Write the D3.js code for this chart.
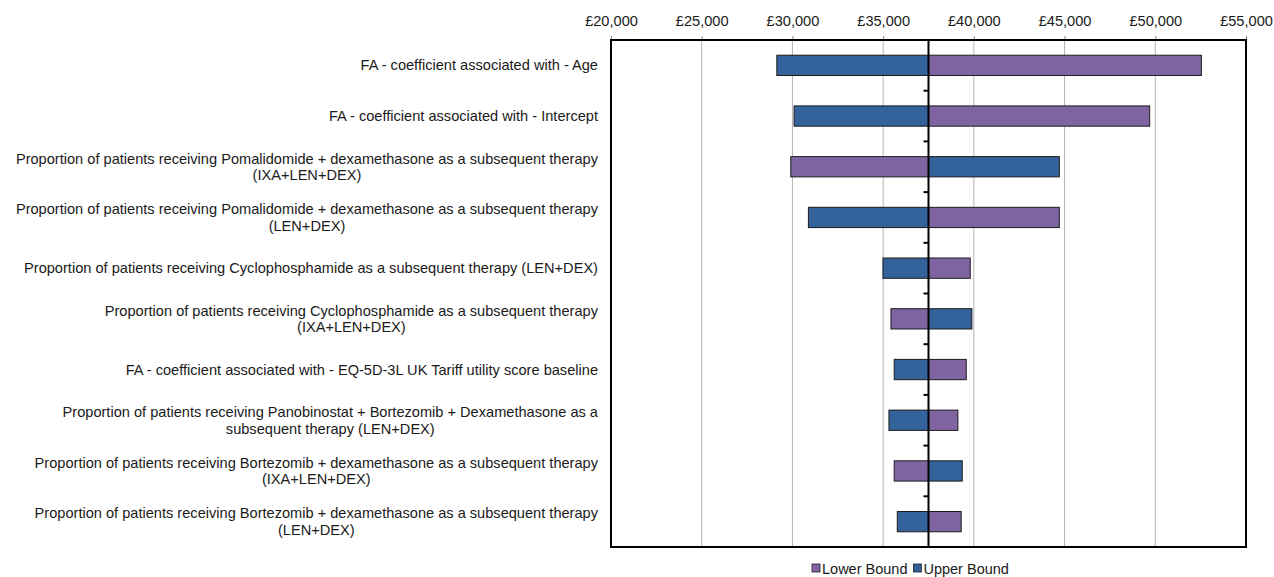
<!DOCTYPE html>
<html lang="en">
  <head>
    <meta charset="UTF-8" />
    <title>Tornado Chart</title>
    <script src="https://d3js.org/d3.v7.min.js"></script>
    <style>
      body {
        margin: 0;
        font-family: "Liberation Sans", Arial, sans-serif;
        background: #fff;
      }
    </style>
  </head>
  <body>
    <svg id="chart" width="1274" height="577"></svg>
    <script>
      // Parameters (rows, top to bottom)
      const labels = [
        "FA - coefficient associated with - Age",
        "FA - coefficient associated with - Intercept",
        "Proportion of patients receiving Pomalidomide + dexamethasone as a subsequent therapy\n(IXA+LEN+DEX)",
        "Proportion of patients receiving Pomalidomide + dexamethasone as a subsequent therapy\n(LEN+DEX)",
        "Proportion of patients receiving Cyclophosphamide as a subsequent therapy (LEN+DEX)",
        "Proportion of patients receiving Cyclophosphamide as a subsequent therapy\n(IXA+LEN+DEX)",
        "FA - coefficient associated with - EQ-5D-3L UK Tariff utility score baseline",
        "Proportion of patients receiving Panobinostat + Bortezomib + Dexamethasone as a\nsubsequent therapy (LEN+DEX)",
        "Proportion of patients receiving Bortezomib + dexamethasone as a subsequent therapy\n(IXA+LEN+DEX)",
        "Proportion of patients receiving Bortezomib + dexamethasone as a subsequent therapy\n(LEN+DEX)",
      ];
      const lowerBound = [52540, 49690, 29910, 44710, 39800, 35430, 39580, 39120, 35610, 39300];
      const upperBound = [29140, 30090, 44710, 30880, 34990, 39890, 35610, 35320, 39360, 35780];
      const baseValue = 37500;
      const xTicks = [20000, 25000, 30000, 35000, 40000, 45000, 50000, 55000];
      const seriesNames = ["Lower Bound", "Upper Bound"];
      const seriesColors = ["#8064a2", "#34629a"];

      const margin = { top: 40, right: 28, bottom: 30, left: 611 };
      const W = 1274, H = 577;
      const width = W - margin.left - margin.right;
      const height = H - margin.top - margin.bottom;

      const svg = d3.select("#chart");
      const g = svg.append("g").attr("transform", `translate(${margin.left},${margin.top})`);

      const x = d3.scaleLinear().domain([20000, 55000]).range([0, width]);
      const y = d3.scaleBand().domain(d3.range(labels.length)).range([0, height]).paddingInner(0.6).paddingOuter(0.3);

      // gridlines + top axis
      const fmt = (d) => "£" + d3.format(",")(d);
      const axis = g.append("g").call(d3.axisTop(x).tickValues(xTicks).tickFormat(fmt).tickSize(4).tickPadding(10));
      axis.select(".domain").remove();
      axis.selectAll("line").attr("stroke", "#888");
      axis.selectAll("text").attr("font-family", "Liberation Sans, Arial, sans-serif").attr("font-size", 14.6).attr("fill", "#1a1a1a");

      g.selectAll(".grid")
        .data(xTicks)
        .join("line")
        .attr("x1", (d) => x(d))
        .attr("x2", (d) => x(d))
        .attr("y1", 0)
        .attr("y2", height)
        .attr("stroke", "#b3b3b3")
        .attr("stroke-width", 1);

      // bars
      const barData = [];
      labels.forEach((l, i) => {
        barData.push({ i, v: lowerBound[i], s: 0 });
        barData.push({ i, v: upperBound[i], s: 1 });
      });
      g.selectAll(".bar")
        .data(barData)
        .join("rect")
        .attr("x", (d) => x(Math.min(d.v, baseValue)))
        .attr("width", (d) => Math.abs(x(d.v) - x(baseValue)))
        .attr("y", (d) => y(d.i))
        .attr("height", y.bandwidth())
        .attr("fill", (d) => seriesColors[d.s])
        .attr("stroke", "#1c1c1c")
        .attr("stroke-width", 1);

      // frame
      g.append("rect")
        .attr("width", width)
        .attr("height", height)
        .attr("fill", "none")
        .attr("stroke", "#000")
        .attr("stroke-width", 2);

      // centre (base) axis with small ticks between categories
      const bx = x(baseValue);
      g.append("line")
        .attr("x1", bx).attr("x2", bx)
        .attr("y1", 0).attr("y2", height)
        .attr("stroke", "#000").attr("stroke-width", 2);
      const step = height / labels.length;
      g.selectAll(".ctick")
        .data(d3.range(1, labels.length))
        .join("line")
        .attr("x1", bx - 5).attr("x2", bx)
        .attr("y1", (d) => d * step).attr("y2", (d) => d * step)
        .attr("stroke", "#000").attr("stroke-width", 2);

      // category labels: block right-aligned, lines centred within block
      const labelRight = margin.left - 13;
      const lh = 16.5;
      const lblG = svg.append("g");
      labels.forEach((l, i) => {
        const lines = l.split("\n");
        const cy = margin.top + y(i) + y.bandwidth() / 2;
        const t = lblG.append("text")
          .attr("font-size", 14.6)
          .attr("fill", "#1a1a1a")
          .attr("text-anchor", "middle");
        lines.forEach((ln, k) => {
          t.append("tspan")
            .attr("y", cy + (k - (lines.length - 1) / 2) * lh + 5)
            .text(ln);
        });
        let maxW = 0;
        t.selectAll("tspan").each(function () {
          maxW = Math.max(maxW, this.getComputedTextLength());
        });
        t.selectAll("tspan").attr("x", labelRight - maxW / 2);
      });

      // legend
      const leg = svg.append("g").attr("transform", `translate(812, ${H - 3})`);
      let lx = 0;
      seriesNames.forEach((n, i) => {
        leg.append("rect")
          .attr("x", lx).attr("y", -10)
          .attr("width", 8).attr("height", 8)
          .attr("fill", seriesColors[i])
          .attr("stroke", "#222").attr("stroke-width", 0.8);
        const tt = leg.append("text")
          .attr("x", lx + 10).attr("y", 0)
          .attr("font-size", 14.5)
          .attr("fill", "#1a1a1a")
          .text(n);
        lx += 10 + tt.node().getComputedTextLength() + 6;
      });
    </script>
  </body>
</html>
